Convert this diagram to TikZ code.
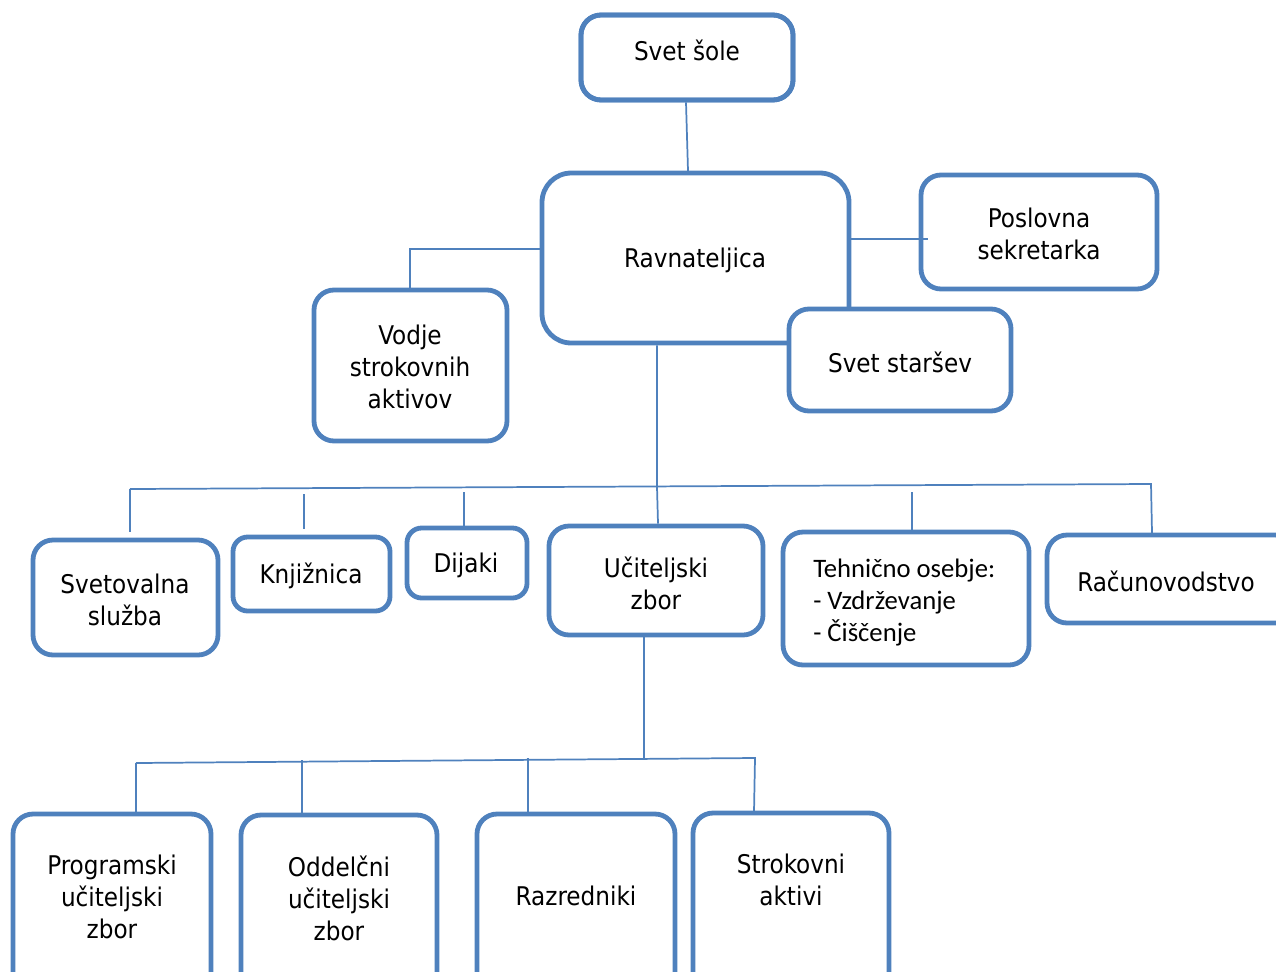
\documentclass[tikz,border=0pt]{standalone}
\usepackage{fontspec}
\setmainfont{DejaVu Sans Condensed}
\newfontfamily\calib{Carlito}
\definecolor{ob}{HTML}{4F81BD}
\newcommand\boxat[5]{\node[box, minimum width={(#4-#2)*0.75pt}, minimum height={(#5-#3)*0.75pt}] (#1) at ({(#2+#4)/2},{(#3+#5)/2}) {};}
\begin{document}
\begin{tikzpicture}[x=0.75pt,y=-0.75pt,
  box/.style={draw=ob, line width=3.6pt, rounded corners=15pt, fill=white, inner sep=0pt},
  small/.style={rounded corners=11pt},
  big/.style={rounded corners=22pt},
  con/.style={draw=ob, line width=1.3pt},
  txt/.style={font=\fontsize{19.3pt}{24pt}\selectfont, align=center, inner sep=0pt},
  ttxt/.style={font=\calib\fontsize{20pt}{24pt}\selectfont, align=left, inner sep=0pt, anchor=west}]
\useasboundingbox (0,0) rectangle (1276,971);
\clip (0,0) rectangle (1276,971);
% coordinates
\coordinate (l1) at (410,249);
\coordinate (p1) at (928,239);
\coordinate (m1) at (657,487);
\coordinate (bl) at (130,489);
\coordinate (br) at (1151,484);
\coordinate (d2) at (304,494);
\coordinate (d3) at (464,492);
\coordinate (d5) at (912,492);
\coordinate (u1) at (644,758);
\coordinate (ll) at (136,763);
\coordinate (lr) at (755,758);
\coordinate (e2) at (302,760);
\coordinate (e3) at (528,758);
% boxes
\boxat{sole}{581}{15}{793}{100}
\node[box, big, minimum width={307*0.75pt}, minimum height={170*0.75pt}] (rav) at (695.5,258) {};
\boxat{pos}{921}{175}{1157}{289}
\boxat{star}{789}{309}{1011}{411}
\boxat{vod}{314}{290}{507}{441}
\boxat{svet}{33}{540}{218}{655}
\node[box, small, minimum width={157*0.75pt}, minimum height={74*0.75pt}] (knj) at (311.5,574) {};
\node[box, small, minimum width={120*0.75pt}, minimum height={70*0.75pt}] (dij) at (467,563) {};
\boxat{uci}{549}{526}{763}{635}
\boxat{teh}{783}{532}{1029}{665}
\boxat{rac}{1047}{535}{1295}{623}
\boxat{prog}{13}{814}{211}{1000}
\boxat{odd}{241}{815}{437}{1000}
\boxat{raz}{477}{814}{675}{1000}
\boxat{strok}{693}{813}{889}{1000}
% connectors
\draw[con] (sole.south -| 686,0) -- (688,171);
\draw[con] (rav.west |- l1) -- (l1) -- (vod.north -| l1);
\draw[con] (rav.east |- p1) -- (p1);
\draw[con] (m1 |- rav.south) -- (m1) -- (uci.north -| 658,0);
\draw[con] (bl) -- (br) -- (1152,533);
\draw[con] (bl) -- (130,532);
\draw[con] (d2) -- (304,529);
\draw[con] (d3) -- (464,527);
\draw[con] (d5) -- (912,531);
\draw[con] (u1 |- uci.south) -- (u1);
\draw[con] (ll) -- (lr) -- (754,812);
\draw[con] (ll) -- (prog.north -| ll);
\draw[con] (e2) -- (302,815);
\draw[con] (e3) -- (528,813);
% redraw border of boxes touched by connectors
\draw[draw=ob, line width=3.6pt, rounded corners=15pt] (581,15) rectangle (793,100);
% texts
\node[txt] (t1) at (687,50) {Svet šole};
\node[txt] (t2) at (695,260) {Ravnateljica};
\node[txt] (t3) at (1039,234) {Poslovna\\sekretarka};
\node[txt] (t4) at (900,362) {Svet staršev};
\node[txt] (t5) at (410,367) {Vodje\\strokovnih\\aktivov};
\node[txt] (t6) at (125,600) {Svetovalna\\služba};
\node[txt] (t7) at (311,576) {Knjižnica};
\node[txt] (t8) at (466,565) {Dijaki};
\node[txt] (t9) at (656,583) {Učiteljski\\zbor};
\node[ttxt] (t10) at (813,603) {Tehnično osebje:\\- Vzdrževanje\\- Čiščenje};
\node[txt] (t11) at (1166,581) {Računovodstvo};
\node[txt] (t12) at (112,897) {Programski\\učiteljski\\zbor};
\node[txt] (t13) at (339,898) {Oddelčni\\učiteljski\\zbor};
\node[txt] (t14) at (576,896) {Razredniki};
\node[txt] (t15) at (791,880) {Strokovni\\aktivi};
\end{tikzpicture}
\end{document}
